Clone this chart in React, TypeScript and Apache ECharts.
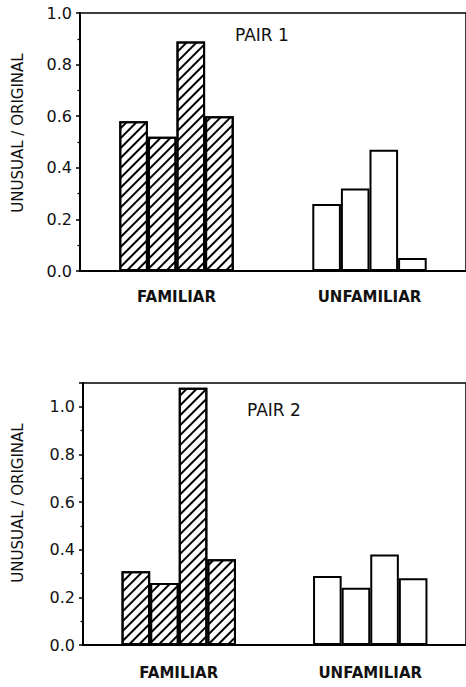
import React, { useEffect, useRef } from "react";
import * as echarts from "echarts";

const categories = ["FAMILIAR", "UNFAMILIAR"];
const pair1Familiar = [0.58, 0.52, 0.89, 0.6];
const pair1Unfamiliar = [0.26, 0.32, 0.47, 0.05];
const pair2Familiar = [0.31, 0.26, 1.08, 0.36];
const pair2Unfamiliar = [0.29, 0.24, 0.38, 0.28];
const pair1Max = 1.0;
const pair2Max = 1.1;
const tickStep = 0.2;
const panelTitles = ["PAIR 1", "PAIR 2"];
const yTitle = "UNUSUAL / ORIGINAL";

const FONT = "'DejaVu Sans', sans-serif";

const hatched = {
  color: "#fff",
  borderColor: "#000",
  borderWidth: 2,
  decal: {
    symbol: "rect",
    symbolSize: 1,
    color: "#000",
    dashArrayX: [1, 0],
    dashArrayY: [1.8, 4.6],
    rotation: -Math.PI / 4,
  },
};
const plain = { color: "#fff", borderColor: "#000", borderWidth: 2 };

function makeSeries(fam: number[], unf: number[], axisIndex: number) {
  return fam.map((v, i) => ({
    type: "bar",
    xAxisIndex: axisIndex,
    yAxisIndex: axisIndex,
    barWidth: 28.6,
    barGap: "0%",
    data: [
      { value: v, itemStyle: hatched },
      { value: unf[i], itemStyle: plain },
    ],
  }));
}

function xAxis(gridIndex: number, margin: number) {
  return {
    type: "category",
    gridIndex,
    data: categories,
    axisTick: { show: false },
    axisLine: { lineStyle: { color: "#000", width: 2 } },
    axisLabel: {
      color: "#111",
      fontFamily: FONT,
      fontSize: 15,
      fontWeight: "bold",
      margin,
    },
  };
}

function yAxis(gridIndex: number, max: number) {
  return {
    type: "value",
    gridIndex,
    min: 0,
    max,
    interval: tickStep,
    splitLine: { show: false },
    axisLine: { show: true, lineStyle: { color: "#000", width: 2 } },
    axisTick: { show: true, length: 4, lineStyle: { color: "#000", width: 1.5 } },
    minorTick: { show: true, splitNumber: 2, length: 2.5, lineStyle: { color: "#000", width: 1.2 } },
    axisLabel: {
      color: "#111",
      fontFamily: FONT,
      fontSize: 16,
      margin: 8,
      formatter: (v: number) => (v > 1.05 ? "" : v.toFixed(1)),
    },
  };
}

export default function App() {
  const ref = useRef<HTMLDivElement>(null);
  useEffect(() => {
    if (!ref.current) return;
    const chart = echarts.init(ref.current, undefined, { renderer: "svg" });
    chart.setOption({
      animation: false,
      backgroundColor: "#fff",
      grid: [
        { left: 80, top: 13, width: 386, height: 258, show: true, borderColor: "#000", borderWidth: 1.5 },
        { left: 83, top: 383, width: 388, height: 262, show: true, borderColor: "#000", borderWidth: 1.5 },
      ],
      xAxis: [xAxis(0, 18), xAxis(1, 20)],
      yAxis: [yAxis(0, pair1Max), yAxis(1, pair2Max)],
      series: [
        ...makeSeries(pair1Familiar, pair1Unfamiliar, 0),
        ...makeSeries(pair2Familiar, pair2Unfamiliar, 1),
      ],
      graphic: [
        {
          type: "text",
          x: 235,
          y: 34.5,
          style: { text: panelTitles[0], font: `17px ${FONT}`, fill: "#111", align: "left", verticalAlign: "middle", textAlign: "left", textVerticalAlign: "middle" },
        },
        {
          type: "text",
          x: 247,
          y: 410,
          style: { text: panelTitles[1], font: `17px ${FONT}`, fill: "#111", align: "left", verticalAlign: "middle", textAlign: "left", textVerticalAlign: "middle" },
        },
        {
          type: "text",
          x: 17.5,
          y: 133,
          rotation: Math.PI / 2,
          style: { text: yTitle, font: `15px ${FONT}`, fill: "#111", align: "center", verticalAlign: "middle", textAlign: "center", textVerticalAlign: "middle" },
        },
        {
          type: "text",
          x: 17.5,
          y: 503,
          rotation: Math.PI / 2,
          style: { text: yTitle, font: `15px ${FONT}`, fill: "#111", align: "center", verticalAlign: "middle", textAlign: "center", textVerticalAlign: "middle" },
        },
      ],
    });
    return () => chart.dispose();
  }, []);
  return (
    <div
      ref={ref}
      style={{ position: "absolute", left: 0, top: 0, width: 466, height: 687 }}
    />
  );
}
